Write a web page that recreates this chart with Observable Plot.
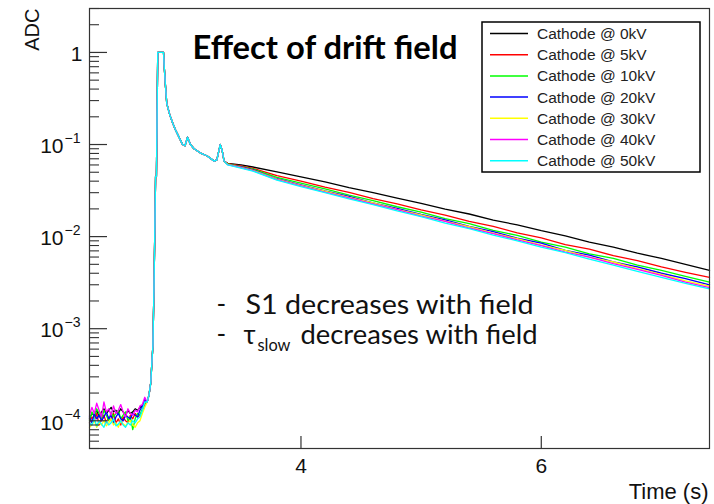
<!DOCTYPE html>
<html><head><meta charset="utf-8">
<script src="https://cdn.jsdelivr.net/npm/d3@7"></script>
<script src="https://cdn.jsdelivr.net/npm/@observablehq/plot@0.6"></script>
<style>
body{margin:0;background:#fff;}
#chart{position:relative;width:714px;height:504px;}
</style></head><body><div id="chart"></div>
<script>
// ---- series ----
const seriesNames = ["Cathode @ 0kV","Cathode @ 5kV","Cathode @ 10kV","Cathode @ 20kV","Cathode @ 30kV","Cathode @ 40kV","Cathode @ 50kV"];
const seriesColors = ["#000000","#ff0000","#00ff00","#0000ff","#ffff00","#ff00ff","#00ffff"];

// ---- pre-trigger baseline (values in units of 1e-4 ADC) ----
const noiseTimes = [2.24,2.26,2.28,2.30,2.32,2.34,2.36,2.38,2.40,2.42,2.44,2.46,2.48,2.50,2.52,2.54,2.56,2.58,2.60,2.62,2.64,2.66,2.68,2.70];
const noise0kV  = [1.05,1.20,1.15,1.30,1.10,1.25,1.35,1.20,1.30,1.40,1.25,1.30,1.20,1.35,1.25,1.15,1.30,1.20,1.25,1.35,1.30,1.40,1.45,1.60];
const noise5kV  = [0.95,1.10,1.00,1.20,0.90,1.05,1.15,0.95,1.10,1.00,1.20,0.95,1.05,0.90,1.10,1.00,0.95,1.15,1.05,1.20,1.10,1.15,1.30,1.50];
const noise10kV = [1.00,1.25,1.10,1.35,1.20,1.05,1.30,1.15,1.00,1.25,1.10,1.20,1.30,1.05,1.15,1.25,1.00,1.10,0.80,1.05,1.20,1.15,1.35,1.55];
const noise20kV = [1.10,0.95,1.20,1.05,1.15,1.00,1.10,1.25,1.05,1.15,0.95,1.10,1.20,1.05,1.00,1.15,1.10,1.05,1.20,1.15,1.10,1.30,1.45,1.70];
const noise30kV = [0.85,0.90,1.00,0.85,0.95,0.90,1.00,0.88,0.95,1.05,0.90,0.95,0.85,1.00,0.92,0.88,0.95,1.00,0.90,0.85,0.95,1.00,1.20,1.40];
const noise40kV = [1.15,1.40,1.20,1.55,1.30,1.10,1.60,1.25,1.35,1.15,1.45,1.20,1.30,1.50,1.25,1.10,1.35,1.20,1.15,1.30,1.25,1.45,1.50,1.80];
const noise50kV = [0.95,0.90,1.05,0.88,1.00,0.92,0.85,1.00,0.90,0.95,1.05,0.88,0.92,1.00,0.90,0.85,0.95,0.90,1.00,0.95,1.05,1.10,1.30,1.60];

// ---- S1 peak region (all fields overlap) ----
const peakTimes  = [2.72,2.735,2.75,2.76,2.768,2.778,2.79,2.797,2.808,2.856,2.862,2.873,2.883,2.908,2.933,2.955,2.975,3.014,3.035,3.056,3.08,3.11,3.17,3.22,3.278,3.30,3.328,3.345,3.36];
const peakValues = [1.6e-4,1.9e-4,2.6e-4,4.5e-4,6.6e-4,0.0036,0.045,0.045,1.0,1.0,0.70,0.42,0.28,0.21,0.17,0.145,0.128,0.100,0.097,0.120,0.100,0.090,0.080,0.075,0.066,0.068,0.100,0.085,0.066];

// ---- slow-component tail ----
const tailTimes = [3.39,3.50,3.60,3.80,4.00,4.20,4.40,4.60,4.80,5.00,5.20,5.40,5.60,5.80,6.00,6.20,6.40,6.60,6.80,7.00,7.20,7.40];
const tail0kV  = [.0625,.0600,.0570,.0505,.0445,.0392,.0340,.0301,.0262,.0230,.0199,.0176,.0151,.0134,.0116,.0102,.0087,.0077,.0066,.0058,.0050,.0043];
const tail5kV  = [.0620,.0585,.0550,.0460,.0400,.0345,.0302,.0259,.0227,.0195,.0171,.0146,.0129,.0110,.0097,.0082,.0073,.0062,.0055,.0047,.0041,.0036];
const tail10kV = [.0615,.0575,.0540,.0440,.0380,.0330,.0282,.0246,.0211,.0184,.0157,.0138,.0117,.0103,.0087,.0077,.0065,.0058,.0049,.0043,.0037,.0032];
const tail20kV = [.0610,.0570,.0530,.0425,.0365,.0313,.0273,.0233,.0203,.0174,.0152,.0129,.0113,.0096,.0085,.0071,.0063,.0053,.0047,.0040,.0035,.0030];
const tail30kV = [.0610,.0565,.0525,.0420,.0360,.0311,.0266,.0232,.0198,.0172,.0147,.0128,.0109,.0095,.0081,.0071,.0060,.0053,.0045,.0039,.0033,.0029];
const tail40kV = [.0605,.0560,.0520,.0415,.0355,.0305,.0264,.0226,.0196,.0167,.0146,.0124,.0108,.0092,.0080,.0068,.0060,.0051,.0044,.0038,.0032,.0028];
const tail50kV = [.0600,.0555,.0515,.0410,.0350,.0301,.0257,.0223,.0190,.0165,.0140,.0122,.0104,.0090,.0077,.0067,.0057,.0049,.0042,.0036,.0031,.0027];

// ---- axis ticks ----
const xTickValues = [4, 6];
const xTickLabels = ["4", "6"];
const yDecadeValues = [0.0001, 0.001, 0.01, 0.1];
const yDecadeExponents = ["\u22124", "\u22123", "\u22122", "\u22121"];
const yOneValue = [1];
const yOneLabel = ["1"];

const noiseBySeries = [noise0kV, noise5kV, noise10kV, noise20kV, noise30kV, noise40kV, noise50kV];
const tailBySeries = [tail0kV, tail5kV, tail10kV, tail20kV, tail30kV, tail40kV, tail50kV];

const rows = [];
seriesNames.forEach((name, i) => {
  noiseTimes.forEach((t, j) => rows.push({series: name, t, v: noiseBySeries[i][j] * 1e-4}));
  peakTimes.forEach((t, j) => rows.push({series: name, t, v: peakValues[j]}));
  tailTimes.forEach((t, j) => rows.push({series: name, t, v: tailBySeries[i][j]}));
});

const minorTicks = [];
for (let e = -5; e <= 0; e++) for (let m = 2; m <= 9; m++) {
  const v = m * Math.pow(10, e);
  if (v >= 5e-5 && v <= 3) minorTicks.push(v);
}

const W = 714, H = 504, ML = 89, MR = 5, MT = 8, MB = 56;
const innerW = W - ML - MR, innerH = H - MT - MB;
const FONT = "'Liberation Sans', Arial, Helvetica, sans-serif";
const CAL = "Lato, 'Open Sans', sans-serif";

const svg = Plot.plot({
  width: W, height: H,
  marginLeft: ML, marginRight: MR, marginTop: MT, marginBottom: MB,
  style: {fontFamily: FONT, background: "#fff", color: "#000"},
  x: {domain: [2.24, 7.4], axis: null},
  y: {type: "log", domain: [5e-5, 3], axis: null},
  color: {domain: seriesNames, range: seriesColors},
  marks: [
    Plot.line(rows, {x: "t", y: "v", z: "series", stroke: "series", strokeWidth: 1.3}),
    Plot.frame({stroke: "#333", strokeWidth: 1.2}),
    Plot.tickY(yDecadeValues.concat(yOneValue), {y: d => d, insetRight: innerW - 18, stroke: "#333", strokeWidth: 1.2}),
    Plot.tickY(minorTicks, {y: d => d, insetRight: innerW - 10, stroke: "#333", strokeWidth: 1.1}),
    Plot.tickX(xTickValues, {x: d => d, insetTop: innerH - 12, stroke: "#333", strokeWidth: 1.2}),
    Plot.text(yDecadeValues, {y: d => d, text: () => "10", frameAnchor: "left", textAnchor: "end", dx: -26, dy: 2, fontSize: 21, fill: "#111"}),
    Plot.text(yDecadeValues, {y: d => d, text: (d, i) => yDecadeExponents[i], frameAnchor: "left", textAnchor: "start", dx: -25, dy: -6, fontSize: 14, fill: "#111"}),
    Plot.text(yOneValue, {y: d => d, text: (d, i) => yOneLabel[i], frameAnchor: "left", textAnchor: "end", dx: -7, dy: 2, fontSize: 21, fill: "#111"}),
    Plot.text(xTickValues, {x: d => d, text: (d, i) => xTickLabels[i], frameAnchor: "bottom", lineAnchor: "bottom", dy: 24, fontSize: 21, fill: "#111"}),
    Plot.text(["Time (s)"], {frameAnchor: "bottom-right", textAnchor: "end", lineAnchor: "bottom", dx: -1, dy: 50, fontSize: 22, fill: "#111"}),
    Plot.text(["ADC"], {frameAnchor: "top-left", rotate: -90, textAnchor: "end", dx: -65, dy: 0, fontSize: 20, fill: "#111"}),
    Plot.text(["Effect of drift field"], {frameAnchor: "top-left", textAnchor: "start", lineAnchor: "bottom", dx: 103, dy: 50, fontSize: 32, fontWeight: "bold", fontFamily: CAL, fill: "#000"}),
    Plot.text(["-", "-"], {frameAnchor: "top-left", textAnchor: "start", lineAnchor: "bottom", dx: 127, dy: 304, fontSize: 26, fontFamily: CAL, fill: "#111"}),
    Plot.text(["S1 decreases with field"], {frameAnchor: "top-left", textAnchor: "start", lineAnchor: "bottom", dx: 156, dy: 305, fontSize: 26, fontFamily: CAL, fill: "#111"}),
    Plot.text(["\u03C4"], {frameAnchor: "top-left", textAnchor: "start", lineAnchor: "bottom", dx: 154, dy: 335, fontSize: 26, fontFamily: CAL, fill: "#111"}),
    Plot.text(["slow"], {frameAnchor: "top-left", textAnchor: "start", lineAnchor: "bottom", dx: 168, dy: 342, fontSize: 17, fontFamily: CAL, fill: "#111"}),
    Plot.text(["decreases with field"], {frameAnchor: "top-left", textAnchor: "start", lineAnchor: "bottom", dx: 211, dy: 335, fontSize: 26, fontFamily: CAL, fill: "#111"})
  ]
});

document.getElementById("chart").appendChild(svg);
const root = d3.select(svg);

// second dash sits on line two
root.selectAll("text").filter(function() { return this.textContent === "-"; })
  .each(function(d, i) { if (i === 1) d3.select(this).attr("y", +d3.select(this).attr("y") + 30); });

// match widths of the Calibri-like text
const fitWidths = [["Effect of drift field", 265], ["S1 decreases with field", 288], ["decreases with field", 237], ["slow", 33]];
fitWidths.forEach(([txt, w]) => {
  root.selectAll("text").filter(function() { return this.textContent === txt; })
    .attr("textLength", w).attr("lengthAdjust", "spacingAndGlyphs");
});

// legend (inside the frame, top right)
const lg = root.append("g").attr("font-family", FONT).attr("text-anchor", "start");
const lx = 482, ly = 22, lw = 218, lh = 150;
lg.append("rect").attr("x", lx).attr("y", ly).attr("width", lw).attr("height", lh)
  .attr("fill", "#fff").attr("stroke", "#000").attr("stroke-width", 1.5);
seriesNames.forEach((name, i) => {
  const cy = 33.5 + i * 21.2;
  lg.append("line").attr("x1", 490).attr("x2", 528).attr("y1", cy).attr("y2", cy)
    .attr("stroke", seriesColors[i]).attr("stroke-width", 1.5);
  lg.append("text").attr("x", 537).attr("y", cy + 5.5).attr("font-size", 15.5)
    .attr("fill", "#222").attr("text-anchor", "start").text(name);
});
</script></body></html>
